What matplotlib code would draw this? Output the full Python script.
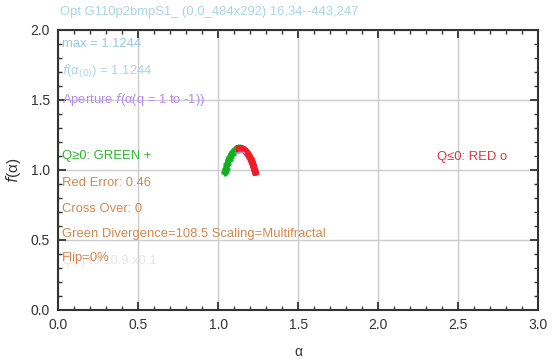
import matplotlib
matplotlib.use("Agg")
import matplotlib.pyplot as plt
from matplotlib.ticker import MultipleLocator

plt.rcParams['font.family'] = ['Liberation Sans', 'DejaVu Sans']

# f(alpha) spectrum, q >= 0 branch (green) and q <= 0 branch (red)
green_alpha = [1.045, 1.050, 1.058, 1.066, 1.075, 1.085, 1.095, 1.105, 1.115, 1.125, 1.133]
green_f = [0.985, 1.010, 1.040, 1.068, 1.092, 1.112, 1.128, 1.140, 1.148, 1.152, 1.153]
red_alpha = [1.133, 1.145, 1.158, 1.170, 1.182, 1.193, 1.203, 1.212, 1.220, 1.227, 1.233]
red_f = [1.153, 1.153, 1.148, 1.138, 1.122, 1.102, 1.080, 1.056, 1.032, 1.008, 0.985]
# aperture segment (q = 1 to -1)
ap_alpha = [1.112, 1.130, 1.150, 1.165]
ap_f = [1.118, 1.124, 1.126, 1.122]

title = "Opt G110p2bmpS1_ (0,0_484x292) 16,34--443,247"
info_lines = [
    ("max = 1.1244", "#95c8e3", 0.950),
    (r"$f$(α$_{(0)}$) = 1.1244", "#a9d4ec", 0.850),
    (r"Aperture $f$(α(q = 1 to -1))", "#b68af0", 0.750),
    ("Q≥0: GREEN +", "#2cb52c", 0.548),
    ("Red Error: 0.46", "#d4884e", 0.455),
    ("Cross Over: 0", "#d4884e", 0.362),
    ("Green Divergence=108.5 Scaling=Multifractal", "#d4884e", 0.272),
    ("Flip=0%", "#d4884e", 0.186),
]
fs = 9.4

fig = plt.figure(figsize=(5.53, 3.6), dpi=100)
ax = fig.add_axes([0.105, 0.139, 0.868, 0.778])

ax.plot(green_alpha, green_f, color="#10b020", lw=4.5, marker="+", ms=6, mew=2, zorder=3)
ax.plot(red_alpha, red_f, color="#f01c28", lw=5, marker="o", ms=4, zorder=3)
ax.plot(ap_alpha, ap_f, color="#b08ae8", lw=1.2, zorder=4)

ax.set_xlim(0, 3)
ax.set_ylim(0, 2)
ax.xaxis.set_major_locator(MultipleLocator(0.5))
ax.xaxis.set_minor_locator(MultipleLocator(0.1))
ax.yaxis.set_major_locator(MultipleLocator(0.5))
ax.yaxis.set_minor_locator(MultipleLocator(0.1))
ax.grid(True, which="major", color="#cccccc", lw=1)
ax.set_axisbelow(True)
ax.tick_params(which="both", direction="in", top=True, right=True, colors="#333333",
               labelsize=10, pad=6)
ax.tick_params(which="major", length=6, width=1.3)
ax.tick_params(which="minor", length=3, width=1)
for s in ax.spines.values():
    s.set_color("#333333")
    s.set_linewidth(1.5)

ax.set_xlabel("α", fontsize=10, color="#333333", labelpad=9)
ax.set_ylabel(r"$f$(α)", fontsize=11, color="#333333", labelpad=5)

fig.text(0.108, 0.966, title, color="#a9d4ec", fontsize=fs, va="center")
# faded caption sitting underneath the flip line
ax.text(0.008, 0.175, "Q(r) to 10.9 x0.1", transform=ax.transAxes, color="#ece2e7",
        fontsize=fs, va="center", zorder=1)
for txt, col, y in info_lines:
    ax.text(0.008, y, txt, transform=ax.transAxes, color=col, fontsize=fs, va="center",
            zorder=5)
ax.text(0.79, 0.546, "Q≤0: RED o", transform=ax.transAxes, color="#f0303c",
        fontsize=fs, va="center")

fig.savefig("out.png", dpi=100)
